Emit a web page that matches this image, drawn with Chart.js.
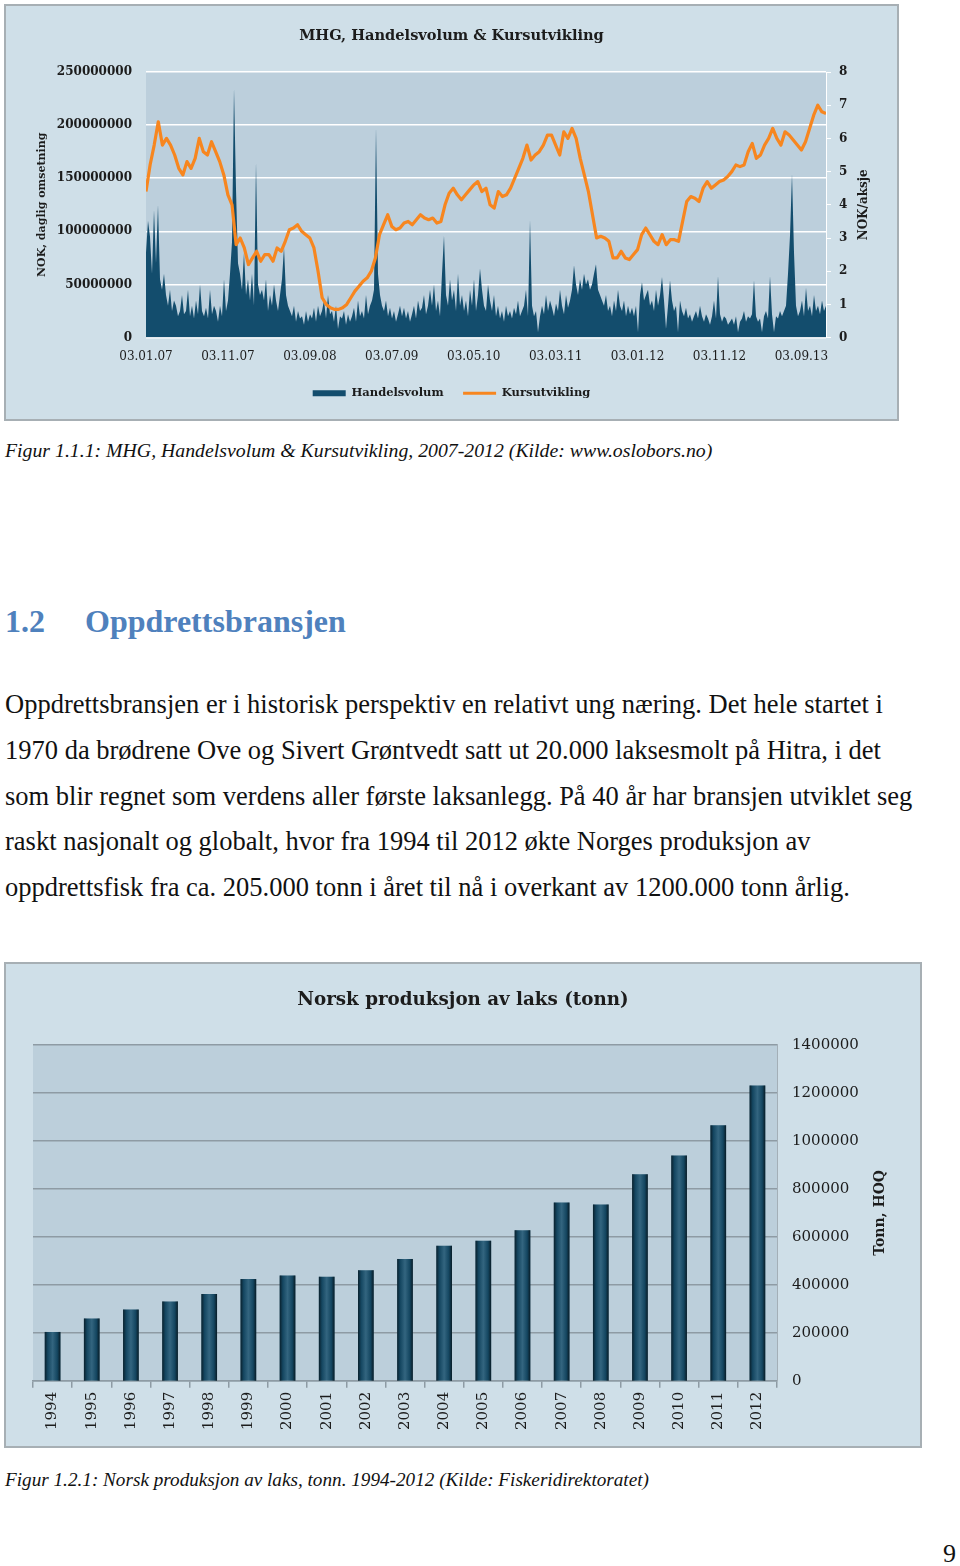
<!DOCTYPE html>
<html>
<head>
<meta charset="utf-8">
<script src="https://cdn.jsdelivr.net/npm/chart.js@4/dist/chart.umd.min.js"></script>
<style>
  html, body { margin: 0; padding: 0; background: #fff; }
  body { width: 960px; height: 1566px; position: relative; overflow: hidden; font-family: "Liberation Serif", serif; color: #111; }
  .box { position: absolute; left: 4px; border: 2px solid #a7afb4; background: #cfdfe8; }
  .box canvas { display: block; }
  .txt { position: absolute; left: 5px; white-space: nowrap; line-height: 1; }
  .cap { font-style: italic; }
  .body { font-size: 26.5px; }
  .head { font-weight: bold; font-size: 32px; color: #4f81bd; }
</style>
</head>
<body>

<div class="box" style="top:4px;"><canvas id="mhg" width="891" height="413"></canvas></div>
<div class="txt cap" style="top:441px; font-size:19.8px;">Figur 1.1.1: MHG, Handelsvolum &amp; Kursutvikling, 2007-2012 (Kilde: www.oslobors.no)</div>

<div class="txt head" style="top:605px;">1.2</div>
<div class="txt head" style="top:605px; left:85px;">Oppdrettsbransjen</div>

<div class="txt body" style="top:691px;">Oppdrettsbransjen er i historisk perspektiv en relativt ung næring. Det hele startet i</div>
<div class="txt body" style="top:737px;">1970 da brødrene Ove og Sivert Grøntvedt satt ut 20.000 laksesmolt på Hitra, i det</div>
<div class="txt body" style="top:783px;">som blir regnet som verdens aller første laksanlegg. På 40 år har bransjen utviklet seg</div>
<div class="txt body" style="top:828px;">raskt nasjonalt og globalt, hvor fra 1994 til 2012 økte Norges produksjon av</div>
<div class="txt body" style="top:874px;">oppdrettsfisk fra ca. 205.000 tonn i året til nå i overkant av 1200.000 tonn årlig.</div>

<div class="box" style="top:962px;"><canvas id="laks" width="914" height="482"></canvas></div>
<div class="txt cap" style="top:1470px; font-size:19.2px;">Figur 1.2.1: Norsk produksjon av laks, tonn. 1994-2012 (Kilde: Fiskeridirektoratet)</div>

<div class="txt" style="top:1541px; left:943px; font-size:26px;">9</div>

<script>
// --- data: MHG (figur 1.1.1) ---
const dateLabels = ['03.01.07', '03.11.07', '03.09.08', '03.07.09', '03.05.10', '03.03.11', '03.01.12', '03.11.12', '03.09.13'];
const monthsShown = 83;   // jan 2007 -> des 2013
const priceStep = 0.5;    // maaneder mellom kurspunkter

// kurs, NOK/aksje, hver halve maaned
const priceNok = [
  4.4, 5.2, 5.8, 6.5, 5.8, 6.0, 5.8, 5.5, 5.1, 4.9,
  5.3, 5.1, 5.4, 6.0, 5.6, 5.5, 5.9, 5.6, 5.3, 4.9,
  4.3, 4.0, 2.8, 3.0, 2.7, 2.2, 2.4, 2.6, 2.3, 2.5,
  2.5, 2.3, 2.7, 2.6, 2.9, 3.25, 3.3, 3.4, 3.2, 3.1,
  3.0, 2.7, 2.0, 1.2, 1.0, 0.9, 0.85, 0.85, 0.9, 1.0,
  1.2, 1.4, 1.55, 1.7, 1.8, 2.0, 2.4, 3.1, 3.4, 3.7,
  3.35, 3.25, 3.3, 3.45, 3.5, 3.4, 3.55, 3.7, 3.6, 3.55,
  3.6, 3.45, 3.5, 4.0, 4.35, 4.5, 4.3, 4.15, 4.3, 4.45,
  4.6, 4.7, 4.4, 4.5, 4.0, 3.9, 4.4, 4.25, 4.3, 4.5,
  4.8, 5.1, 5.4, 5.8, 5.35, 5.5, 5.6, 5.8, 6.1, 6.1,
  5.8, 5.5, 6.2, 6.0, 6.3, 6.0, 5.4, 4.9, 4.4, 3.7,
  3.0, 3.05, 3.0, 2.9, 2.4, 2.4, 2.6, 2.4, 2.35, 2.5,
  2.65, 3.1, 3.3, 3.1, 2.9, 2.8, 3.1, 2.8, 2.95, 2.95,
  2.9, 3.5, 4.1, 4.25, 4.2, 4.1, 4.5, 4.7, 4.5, 4.6,
  4.7, 4.75, 4.85, 5.0, 5.2, 5.15, 5.2, 5.6, 5.85, 5.4,
  5.5, 5.8, 6.0, 6.3, 6.0, 5.8, 6.2, 6.1, 5.95, 5.8,
  5.65, 5.9, 6.3, 6.7, 7.0, 6.8, 6.75
];

// daglig omsetning, millioner NOK (avlest ca. hver kvarte maaned)
const volumeM = [
  80, 110, 95, 60, 120, 70, 125, 55, 45, 60,
  40, 30, 45, 25, 35, 30, 20, 25, 40, 22,
  25, 45, 20, 30, 18, 35, 22, 50, 25, 20,
  28, 18, 45, 22, 30, 25, 15, 30, 20, 55,
  25, 35, 60, 90, 235, 140, 70, 60,
  45, 80, 40, 55, 35, 60, 30, 165, 50, 40,
  45, 35, 55, 25, 40, 30, 50, 35, 25, 40,
  55, 85, 40, 30, 25, 20, 30, 15, 25, 18,
  20, 12, 25, 15, 22, 18, 28, 15, 30, 20,
  25, 35, 18, 40, 22, 25, 15, 30, 8, 20,
  18, 25, 12, 22, 15, 20, 28, 15, 35, 20,
  25, 18, 40, 22, 30, 35, 45, 198, 60, 40,
  30, 25, 35, 20, 28, 18, 25, 15, 22, 30,
  20, 28, 18, 25, 15, 22, 30, 18, 35, 25,
  28, 40, 22, 30, 45, 30, 50, 25, 35, 20,
  60, 96, 40, 30, 55, 35, 45, 25, 60, 30,
  40, 25, 35, 20, 45, 30, 55, 25, 40, 65,
  45, 30, 25, 50, 35, 25, 40, 20, 30, 18,
  25, 15, 30, 20, 25, 18, 28, 22, 35, 20,
  25, 30, 45, 20, 111, 30, 20, 25, 5, 20,
  30, 22, 40, 25, 35, 28, 20, 32, 25, 45,
  30, 22, 40, 28, 35, 45, 68, 50, 40, 55,
  45, 60, 50, 55, 45, 50, 60, 69, 45, 40,
  35, 30, 40, 25, 30, 20, 35, 25, 45, 30,
  25, 35, 20, 30, 22, 28, 20, 30, 5, 40,
  52, 35, 40, 45, 30, 35, 25, 45, 30, 40,
  57, 35, 8, 30, 54, 35, 25, 30, 5, 35,
  25, 20, 28, 18, 22, 15, 20, 25, 18, 30,
  20, 15, 22, 18, 12, 20, 35, 18, 58, 22,
  15, 20, 18, 12, 15, 18, 12, 20, 5, 15,
  18, 25, 15, 20, 18, 22, 54, 20, 15, 18,
  5, 20, 25, 18, 58, 22, 5, 20, 18, 25,
  20, 25, 30, 60, 96, 154, 80, 30, 20, 25,
  35, 20, 47, 25, 30, 20, 40, 25, 30, 22,
  35, 25, 30
];

// --- data: laks (figur 1.2.1) ---
const years = ['1994', '1995', '1996', '1997', '1998', '1999', '2000', '2001', '2002', '2003',
               '2004', '2005', '2006', '2007', '2008', '2009', '2010', '2011', '2012'];
const laksTonn = [204000, 260000, 297000, 331000, 362000, 424000, 439000, 434000, 461000, 508000,
                  563000, 584000, 628000, 743000, 735000, 861000, 939000, 1065000, 1231000];

// --- plugins ---
const plotBg = {
  id: 'plotBg',
  beforeDraw(chart, args, opts) {
    const { ctx, chartArea: a } = chart;
    ctx.save();
    ctx.fillStyle = opts.color;
    ctx.fillRect(a.left, a.top, a.right - a.left, a.bottom - a.top);
    ctx.restore();
  }
};

// aksetittel paa hoyre side, lest nedenfra og opp
const sideTitle = {
  id: 'sideTitle',
  afterDraw(chart, args, o) {
    const { ctx, chartArea: a } = chart;
    ctx.save();
    ctx.translate(o.x, (a.top + a.bottom) / 2);
    ctx.rotate(-Math.PI / 2);
    ctx.font = o.font;
    ctx.fillStyle = o.color;
    ctx.textAlign = 'center';
    ctx.textBaseline = 'middle';
    ctx.fillText(o.text, 0, 0);
    ctx.restore();
  }
};

// litt 3D-preg paa soylene
const bevel = {
  id: 'bevel',
  afterDatasetsDraw(chart) {
    const { ctx } = chart;
    chart.getDatasetMeta(0).data.forEach(bar => {
      const { x, y, base, width } = bar.getProps(['x', 'y', 'base', 'width'], true);
      const g = ctx.createLinearGradient(x - width / 2, 0, x + width / 2, 0);
      g.addColorStop(0, 'rgba(0,0,0,0.6)');
      g.addColorStop(0.2, 'rgba(0,0,0,0.12)');
      g.addColorStop(0.5, 'rgba(255,255,255,0.12)');
      g.addColorStop(0.8, 'rgba(0,0,0,0.12)');
      g.addColorStop(1, 'rgba(0,0,0,0.65)');
      ctx.save();
      ctx.fillStyle = g;
      ctx.fillRect(x - width / 2, y, width, base - y);
      ctx.restore();
    });
  }
};

const serif = 'DejaVu Serif';
const ink = '#1c1c1c';

// --- figur 1.1.1 ---
const volStep = monthsShown / (volumeM.length - 1);

new Chart(document.getElementById('mhg'), {
  type: 'line',
  data: {
    datasets: [
      {
        label: 'Handelsvolum',
        data: volumeM.map((v, i) => ({ x: i * volStep, y: v * 1e6 })),
        yAxisID: 'y',
        order: 2,
        fill: 'origin',
        backgroundColor: '#134d6d',
        borderColor: '#134d6d',
        borderWidth: 0,
        pointRadius: 0,
        pointBorderWidth: 0,
        pointStyle: 'rect',
        tension: 0
      },
      {
        label: 'Kursutvikling',
        data: priceNok.map((v, i) => ({ x: i * priceStep, y: v })),
        yAxisID: 'y1',
        order: 1,
        fill: false,
        borderColor: '#f7861f',
        backgroundColor: '#f7861f',
        borderWidth: 3.2,
        borderJoinStyle: 'round',
        pointRadius: 0,
        pointBorderWidth: 3,
        pointStyle: 'line',
        tension: 0
      }
    ]
  },
  options: {
    responsive: false,
    animation: false,
    layout: { padding: { left: 0, right: 0, top: 0, bottom: 10 } },
    scales: {
      x: {
        type: 'linear',
        min: 0,
        max: monthsShown,
        grid: { display: false },
        border: { display: false },
        ticks: {
          stepSize: 10,
          autoSkip: false,
          maxRotation: 0,
          padding: 4,
          color: ink,
          font: { family: serif, size: 12 },
          callback: v => dateLabels[v / 10] ?? ''
        }
      },
      y: {
        position: 'left',
        min: 0,
        max: 250000000,
        afterFit: s => { s.width = 140; },
        grid: { color: '#ffffff', lineWidth: 1.6, drawTicks: false },
        border: { display: false },
        ticks: {
          stepSize: 50000000,
          padding: 14,
          color: ink,
          font: { family: serif, size: 12, weight: 'bold' },
          callback: v => String(v)
        },
        title: {
          display: true,
          text: 'NOK, daglig omsetning',
          padding: { top: 30, bottom: 4 },
          color: ink,
          font: { family: serif, size: 11, weight: 'bold' }
        }
      },
      y1: {
        position: 'right',
        min: 0,
        max: 8,
        afterFit: s => { s.width = 71; },
        grid: { drawOnChartArea: false, color: '#ffffff', tickLength: 5 },
        border: { color: '#ffffff' },
        ticks: {
          stepSize: 1,
          padding: 8,
          color: ink,
          font: { family: serif, size: 12, weight: 'bold' }
        }
      }
    },
    plugins: {
      title: {
        display: true,
        text: 'MHG, Handelsvolum & Kursutvikling',
        padding: { top: 21.3, bottom: 27.2 },
        color: ink,
        font: { family: serif, size: 14.6, weight: 'bold' }
      },
      legend: {
        position: 'bottom',
        labels: {
          usePointStyle: true,
          pointStyleWidth: 33,
          boxWidth: 33,
          boxHeight: 6,
          padding: 19.5,
          color: ink,
          font: { family: serif, size: 11.5, weight: 'bold' },
          sort: (a, b) => a.datasetIndex - b.datasetIndex
        }
      },
      tooltip: { enabled: false },
      plotBg: { color: '#bccfdc' },
      sideTitle: { text: 'NOK/aksje', x: 858, color: ink, font: 'bold 12px "DejaVu Serif"' }
    }
  },
  plugins: [plotBg, sideTitle]
});

// --- figur 1.2.1 ---
new Chart(document.getElementById('laks'), {
  type: 'bar',
  data: {
    labels: years,
    datasets: [{
      label: 'Tonn',
      data: laksTonn,
      backgroundColor: '#17506e',
      borderWidth: 0,
      barPercentage: 0.4,
      categoryPercentage: 1
    }]
  },
  options: {
    responsive: false,
    animation: false,
    layout: { padding: { left: 0, right: 0, top: 0, bottom: 12 } },
    scales: {
      x: {
        grid: { drawOnChartArea: false, color: '#8e9ba4', lineWidth: 1.5, tickLength: 7 },
        border: { color: '#8e9ba4', width: 1.5 },
        ticks: {
          minRotation: 90,
          maxRotation: 90,
          autoSkip: false,
          padding: 4,
          color: ink,
          font: { family: serif, size: 15 }
        }
      },
      // tom akse til venstre som bare holder av plass
      gap: {
        position: 'left',
        afterFit: s => { s.width = 27; },
        grid: { display: false },
        border: { display: false },
        ticks: { display: false }
      },
      y: {
        position: 'right',
        min: 0,
        max: 1400000,
        afterFit: s => { s.width = 143; },
        grid: { color: '#8e9ba4', lineWidth: 1.5, drawTicks: false },
        border: { color: '#a3afb7' },
        ticks: {
          stepSize: 200000,
          padding: 15,
          color: ink,
          font: { family: serif, size: 15 },
          callback: v => String(v)
        }
      }
    },
    plugins: {
      title: {
        display: true,
        text: 'Norsk produksjon av laks (tonn)',
        padding: { top: 25, bottom: 34 },
        color: ink,
        font: { family: serif, size: 18.3, weight: 'bold' }
      },
      legend: { display: false },
      tooltip: { enabled: false },
      plotBg: { color: '#bccfdb' },
      sideTitle: { text: 'Tonn, HOQ', x: 874, color: ink, font: 'bold 14px "DejaVu Serif"' }
    }
  },
  plugins: [plotBg, bevel, sideTitle]
});
</script>
</body>
</html>
